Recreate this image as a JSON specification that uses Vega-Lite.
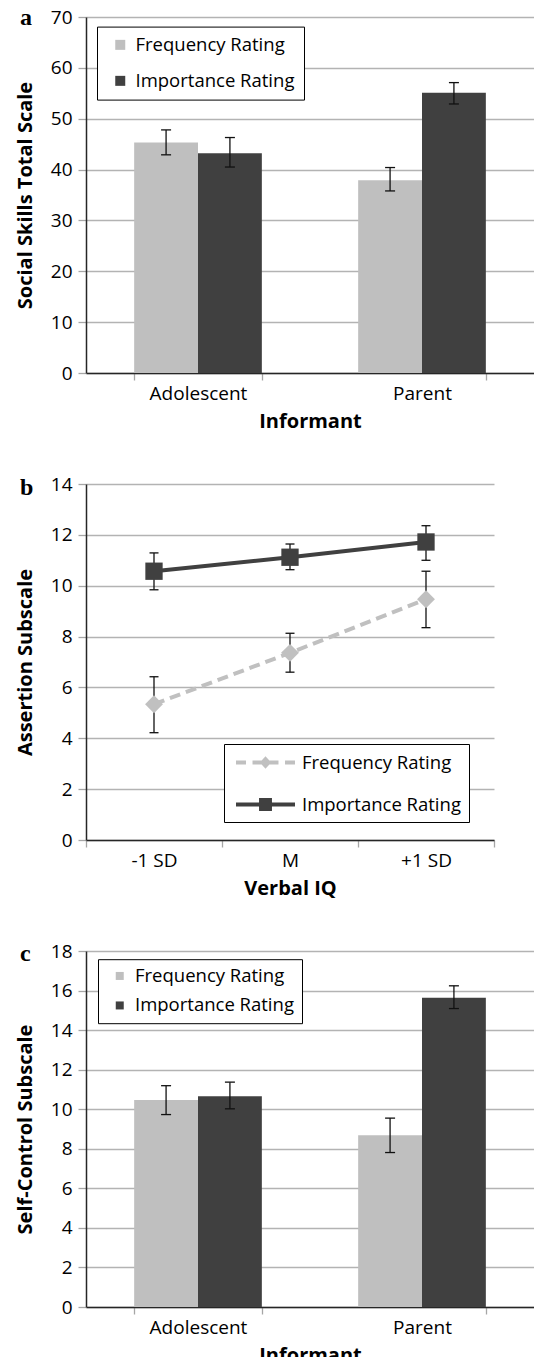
{
  "$schema": "https://vega.github.io/schema/vega-lite/v6.json",
  "background": "white",
  "padding": {"left": 15, "top": 6, "right": 0, "bottom": 0},
  "spacing": 111,
  "bounds": "flush",
  "datasets": {
    "a": [
      {"Informant": "Adolescent", "Rating": "Frequency Rating", "mean": 45.3, "lo": 42.9, "hi": 47.8},
      {"Informant": "Adolescent", "Rating": "Importance Rating", "mean": 43.2, "lo": 40.5, "hi": 46.3},
      {"Informant": "Parent", "Rating": "Frequency Rating", "mean": 37.9, "lo": 35.8, "hi": 40.4},
      {"Informant": "Parent", "Rating": "Importance Rating", "mean": 55.1, "lo": 52.9, "hi": 57.1}
    ],
    "b": [
      {"IQ": "-1 SD", "Rating": "Frequency Rating", "mean": 5.34, "lo": 4.22, "hi": 6.42},
      {"IQ": "M", "Rating": "Frequency Rating", "mean": 7.36, "lo": 6.6, "hi": 8.13},
      {"IQ": "+1 SD", "Rating": "Frequency Rating", "mean": 9.47, "lo": 8.35, "hi": 10.57},
      {"IQ": "-1 SD", "Rating": "Importance Rating", "mean": 10.57, "lo": 9.84, "hi": 11.29},
      {"IQ": "M", "Rating": "Importance Rating", "mean": 11.12, "lo": 10.63, "hi": 11.64},
      {"IQ": "+1 SD", "Rating": "Importance Rating", "mean": 11.72, "lo": 11.0, "hi": 12.36}
    ],
    "c": [
      {"Informant": "Adolescent", "Rating": "Frequency Rating", "mean": 10.46, "lo": 9.73, "hi": 11.19},
      {"Informant": "Adolescent", "Rating": "Importance Rating", "mean": 10.66, "lo": 10.02, "hi": 11.37},
      {"Informant": "Parent", "Rating": "Frequency Rating", "mean": 8.68, "lo": 7.81, "hi": 9.55},
      {"Informant": "Parent", "Rating": "Importance Rating", "mean": 15.64, "lo": 15.09, "hi": 16.24}
    ]
  },
  "resolve": {
    "scale": {"color": "independent", "shape": "independent"},
    "legend": {"color": "independent", "shape": "independent"}
  },
  "config": {
    "font": "Open Sans",
    "view": {"stroke": null},
    "axis": {
      "labelFont": "Open Sans", "titleFont": "Open Sans", "labelColor": "#000", "titleColor": "#000",
      "labelFontSize": 19, "titleFontSize": 20, "titleFontWeight": "bold",
      "domainColor": "#262626", "domainWidth": 1.5, "tickColor": "#a6a6a6", "tickWidth": 1.3, "labelOverlap": false
    },
    "axisY": {"gridColor": "#b3b3b3", "gridWidth": 1.3, "tickSize": 8, "labelPadding": 6, "titlePadding": 15},
    "axisX": {"grid": false, "tickSize": 7, "labelPadding": 4, "titlePadding": 8, "labelAngle": 0, "tickBand": "extent"},
    "legend": {"labelFont": "Open Sans", "labelFontSize": 18.5, "labelColor": "#000", "strokeColor": "#000", "fillColor": "#fff", "title": null, "labelLimit": 300}
  },
  "vconcat": [
    {
      "width": 448, "height": 356,
      "title": {"text": "a", "anchor": "start", "frame": "group", "dx": -66, "dy": 41, "font": "Liberation Serif", "fontSize": 24, "fontWeight": "bold", "color": "#000", "offset": 0, "baseline": "alphabetic"},
      "data": {"name": "a"},
      "encoding": {
        "x": {"field": "Informant", "type": "nominal", "sort": ["Adolescent", "Parent"], "title": "Informant", "scale": {"type": "band", "paddingInner": 0.43, "paddingOuter": 0.215}},
        "xOffset": {"field": "Rating", "type": "nominal", "sort": ["Frequency Rating", "Importance Rating"], "scale": {"paddingInner": 0, "paddingOuter": 0}}
      },
      "layer": [
        {
          "mark": {"type": "bar"},
          "encoding": {
            "y": {"field": "mean", "type": "quantitative", "title": "Social Skills Total Scale", "scale": {"domain": [0, 70], "nice": false}, "axis": {"values": [0, 10, 20, 30, 40, 50, 60, 70]}},
            "color": {"field": "Rating", "type": "nominal", "scale": {"domain": ["Frequency Rating", "Importance Rating"], "range": ["#bfbfbf", "#404040"]},
              "legend": {"orient": "none", "legendX": 11, "legendY": 9.6, "symbolType": "square", "symbolSize": 100, "padding": 9, "rowPadding": 17, "symbolOffset": 5, "labelOffset": 6}}
          }
        },
        {
          "mark": {"type": "rule", "color": "#111", "strokeWidth": 1.3},
          "encoding": {"y": {"field": "lo", "type": "quantitative", "title": "Social Skills Total Scale", "axis": {"values": [0, 10, 20, 30, 40, 50, 60, 70]}}, "y2": {"field": "hi"}}
        },
        {
          "mark": {"type": "tick", "color": "#111", "size": 10, "thickness": 1.3, "orient": "horizontal", "opacity": 1},
          "encoding": {"y": {"field": "lo", "type": "quantitative", "title": "Social Skills Total Scale", "axis": {"values": [0, 10, 20, 30, 40, 50, 60, 70]}}}
        },
        {
          "mark": {"type": "tick", "color": "#111", "size": 10, "thickness": 1.3, "orient": "horizontal", "opacity": 1},
          "encoding": {"y": {"field": "hi", "type": "quantitative", "title": "Social Skills Total Scale", "axis": {"values": [0, 10, 20, 30, 40, 50, 60, 70]}}}
        }
      ]
    },
    {
      "width": 408, "height": 356,
      "title": {"text": "b", "anchor": "start", "frame": "group", "dx": -66, "dy": 44, "font": "Liberation Serif", "fontSize": 24, "fontWeight": "bold", "color": "#000", "offset": 0, "baseline": "alphabetic"},
      "data": {"name": "b"},
      "encoding": {
        "x": {"field": "IQ", "type": "nominal", "sort": ["-1 SD", "M", "+1 SD"], "title": "Verbal IQ", "scale": {"type": "band", "paddingInner": 0, "paddingOuter": 0}}
      },
      "layer": [
        {
          "mark": {"type": "rule", "color": "#111", "strokeWidth": 1.3},
          "encoding": {"y": {"field": "lo", "type": "quantitative", "title": "Assertion Subscale", "scale": {"domain": [0, 14], "nice": false}, "axis": {"values": [0, 2, 4, 6, 8, 10, 12, 14]}}, "y2": {"field": "hi"}}
        },
        {
          "mark": {"type": "tick", "color": "#111", "size": 9, "thickness": 1.3, "orient": "horizontal", "opacity": 1},
          "encoding": {"y": {"field": "lo", "type": "quantitative", "title": "Assertion Subscale", "axis": {"values": [0, 2, 4, 6, 8, 10, 12, 14]}}}
        },
        {
          "mark": {"type": "tick", "color": "#111", "size": 9, "thickness": 1.3, "orient": "horizontal", "opacity": 1},
          "encoding": {"y": {"field": "hi", "type": "quantitative", "title": "Assertion Subscale", "axis": {"values": [0, 2, 4, 6, 8, 10, 12, 14]}}}
        },
        {
          "transform": [{"filter": "datum.Rating === 'Frequency Rating'"}],
          "mark": {"type": "line", "strokeWidth": 4, "color": "#c0c0c0", "strokeDash": [11, 6]},
          "encoding": {"y": {"field": "mean", "type": "quantitative", "title": "Assertion Subscale", "axis": {"values": [0, 2, 4, 6, 8, 10, 12, 14]}}}
        },
        {
          "transform": [{"filter": "datum.Rating === 'Importance Rating'"}],
          "mark": {"type": "line", "strokeWidth": 4, "color": "#404040"},
          "encoding": {"y": {"field": "mean", "type": "quantitative", "title": "Assertion Subscale", "axis": {"values": [0, 2, 4, 6, 8, 10, 12, 14]}}}
        },
        {
          "transform": [{"filter": "datum.Rating === 'Frequency Rating'"}],
          "mark": {"type": "point", "shape": "diamond", "filled": true, "opacity": 1, "size": 320, "color": "#c0c0c0"},
          "encoding": {"y": {"field": "mean", "type": "quantitative", "title": "Assertion Subscale", "axis": {"values": [0, 2, 4, 6, 8, 10, 12, 14]}}}
        },
        {
          "transform": [{"filter": "datum.Rating === 'Importance Rating'"}],
          "mark": {"type": "point", "shape": "square", "filled": true, "opacity": 1, "size": 300, "color": "#404040"},
          "encoding": {"y": {"field": "mean", "type": "quantitative", "title": "Assertion Subscale", "axis": {"values": [0, 2, 4, 6, 8, 10, 12, 14]}}}
        },
        {
          "transform": [{"filter": "false"}],
          "mark": {"type": "point", "filled": true, "opacity": 1},
          "encoding": {
            "y": {"field": "mean", "type": "quantitative", "title": "Assertion Subscale", "axis": {"values": [0, 2, 4, 6, 8, 10, 12, 14]}},
            "color": {"field": "Rating", "type": "nominal", "scale": {"domain": ["Frequency Rating", "Importance Rating"], "range": ["#c0c0c0", "#404040"]},
              "legend": {"orient": "none", "legendX": 138, "legendY": 260, "padding": 8, "rowPadding": 22, "symbolOffset": 23, "labelOffset": 26, "symbolSize": 361, "symbolOpacity": 1}},
            "shape": {"field": "Rating", "type": "nominal",
              "scale": {"domain": ["Frequency Rating", "Importance Rating"], "range": [
                "M-3.105,-0.21H-2.053V0.21H-3.105Z M-1.368,-0.21H-0.421V0.21H-1.368Z M0.421,-0.21H1.368V0.21H0.421Z M2.053,-0.21H3.105V0.21H2.053Z M-0.6,0L0,-0.65L0.6,0L0,0.65Z",
                "M-3.105,-0.21H3.105V0.21H-3.105Z M-0.68,-0.68H0.68V0.68H-0.68Z"
              ]},
              "legend": {"orient": "none", "legendX": 138, "legendY": 260, "padding": 8, "rowPadding": 22, "symbolOffset": 23, "labelOffset": 26, "symbolSize": 361, "symbolOpacity": 1}}
          }
        }
      ]
    },
    {
      "width": 448, "height": 356,
      "title": {"text": "c", "anchor": "start", "frame": "group", "dx": -66, "dy": 43, "font": "Liberation Serif", "fontSize": 24, "fontWeight": "bold", "color": "#000", "offset": 0, "baseline": "alphabetic"},
      "data": {"name": "c"},
      "encoding": {
        "x": {"field": "Informant", "type": "nominal", "sort": ["Adolescent", "Parent"], "title": "Informant", "scale": {"type": "band", "paddingInner": 0.43, "paddingOuter": 0.215}},
        "xOffset": {"field": "Rating", "type": "nominal", "sort": ["Frequency Rating", "Importance Rating"], "scale": {"paddingInner": 0, "paddingOuter": 0}}
      },
      "layer": [
        {
          "mark": {"type": "bar"},
          "encoding": {
            "y": {"field": "mean", "type": "quantitative", "title": "Self-Control Subscale", "scale": {"domain": [0, 18], "nice": false}, "axis": {"values": [0, 2, 4, 6, 8, 10, 12, 14, 16, 18]}},
            "color": {"field": "Rating", "type": "nominal", "scale": {"domain": ["Frequency Rating", "Importance Rating"], "range": ["#bfbfbf", "#404040"]},
              "legend": {"orient": "none", "legendX": 12, "legendY": 8.2, "symbolType": "square", "symbolSize": 64, "padding": 7.5, "rowPadding": 10.5, "symbolOffset": 5, "labelOffset": 6}}
          }
        },
        {
          "mark": {"type": "rule", "color": "#111", "strokeWidth": 1.3},
          "encoding": {"y": {"field": "lo", "type": "quantitative", "title": "Self-Control Subscale", "axis": {"values": [0, 2, 4, 6, 8, 10, 12, 14, 16, 18]}}, "y2": {"field": "hi"}}
        },
        {
          "mark": {"type": "tick", "color": "#111", "size": 10, "thickness": 1.3, "orient": "horizontal", "opacity": 1},
          "encoding": {"y": {"field": "lo", "type": "quantitative", "title": "Self-Control Subscale", "axis": {"values": [0, 2, 4, 6, 8, 10, 12, 14, 16, 18]}}}
        },
        {
          "mark": {"type": "tick", "color": "#111", "size": 10, "thickness": 1.3, "orient": "horizontal", "opacity": 1},
          "encoding": {"y": {"field": "hi", "type": "quantitative", "title": "Self-Control Subscale", "axis": {"values": [0, 2, 4, 6, 8, 10, 12, 14, 16, 18]}}}
        }
      ]
    }
  ]
}
